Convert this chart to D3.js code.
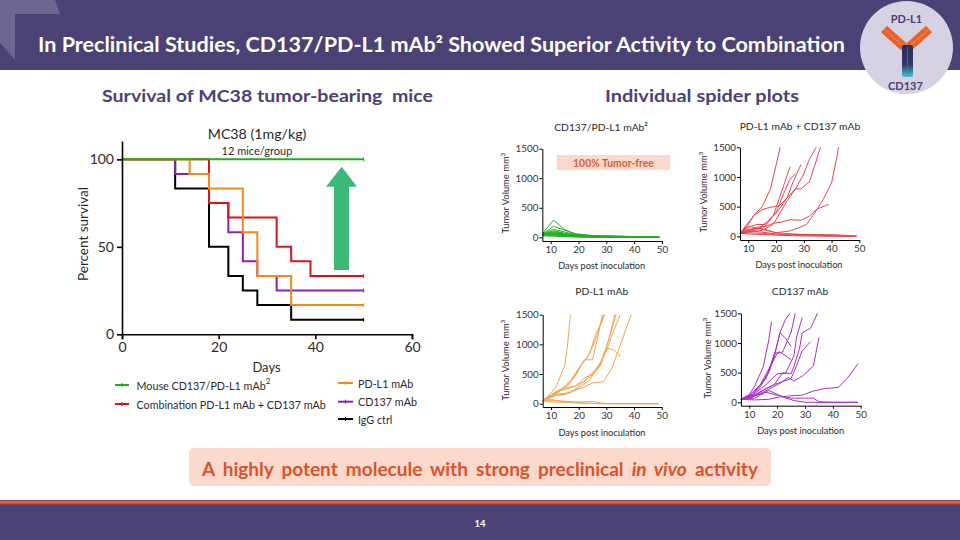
<!DOCTYPE html>
<html><head><meta charset="utf-8">
<script src="https://cdn.jsdelivr.net/npm/d3@7/dist/d3.min.js"></script>
<style>html,body{margin:0;padding:0;background:#fff}svg{display:block}text{font-family:Lato,sans-serif}</style>
</head><body><svg id="c" width="960" height="540"></svg>
<script>
// ---------- survival data (day, percent) ----------
const survivalGreen  = [[0,100],[50,100]];
const survivalRed    = [[0,100],[18,75],[22,66.7],[32,50],[35,41.7],[39,33.3],[50,33.3]];
const survivalOrange = [[0,100],[14,91.7],[18,83.3],[25,58.3],[28,33.3],[35,16.7],[50,16.7]];
const survivalPurple = [[0,100],[11,91.7],[18,75],[22,58.3],[25,41.7],[28,33.3],[32,25],[50,25]];
const survivalBlack  = [[0,100],[11,83.3],[18,50],[22,33.3],[25,25],[28,16.7],[35,8.3],[50,8.3]];
const survivalTicksX = [0,20,40,60];
const survivalTicksY = [0,50,100];
const legendLeft  = ["Mouse CD137/PD-L1 mAb","Combination PD-L1 mAb + CD137 mAb"];
const legendRight = ["PD-L1 mAb","CD137 mAb","IgG ctrl"];

// ---------- spider data (day, volume) ----------
const spiderGreen = [
 [[7,60],[11,290],[15,130],[19,50],[25,25],[35,15],[49,5]],
 [[7,50],[11,185],[15,120],[19,60],[25,30],[35,15],[49,5]],
 [[7,60],[11,135],[15,90],[19,40],[25,20],[35,10],[49,0]],
 [[7,40],[11,110],[15,70],[19,35],[25,20],[35,20],[49,0]],
 [[7,50],[11,95],[15,60],[19,30],[25,25],[35,10],[49,0]],
 [[7,30],[11,80],[15,55],[19,25],[25,15],[35,10],[49,0]],
 [[7,70],[11,70],[15,45],[19,25],[25,15],[35,5],[49,0]],
 [[7,40],[11,60],[15,40],[19,20],[25,10],[35,5],[49,0]],
 [[7,55],[11,50],[15,30],[19,15],[25,10],[35,5],[49,0]],
 [[7,35],[11,40],[15,25],[19,15],[25,5],[35,0],[49,0]],
 [[7,45],[11,30],[15,20],[19,10],[25,5],[35,0],[49,0]],
 [[7,25],[11,20],[15,10],[19,5],[25,0],[35,0],[49,0]]
];
const spiderRed = [
 [[7,50],[10,200],[12,350],[15,500],[18,800],[20,1200],[21.5,1500]],
 [[7,50],[10,150],[13,200],[16,200],[19,350],[22,750],[25,1170]],
 [[7,50],[10,100],[13,130],[16,170],[20,400],[23,750],[25,960],[27,1050]],
 [[7,50],[12,350],[15,450],[18,490],[21,510],[24,650],[26,900],[29,1210]],
 [[7,50],[13,150],[16,160],[19,220],[22,240],[25,280],[29,270],[32,340],[35,470],[36,480],[39,540]],
 [[7,50],[10,120],[15,130],[20,60],[25,90],[28,140],[31,200],[34,400],[37,620],[40,900],[42,1350],[42.5,1500]],
 [[7,50],[13,110],[17,250],[21,450],[24,650],[27,800],[29,800],[32,920],[34,1200],[36,1500]],
 [[7,50],[15,100],[19,200],[24,600],[27,800],[30,1050],[32,1300],[34.5,1500]],
 [[7,50],[10,170],[14,130],[20,60],[26,40],[35,15],[49,0]],
 [[7,50],[10,90],[15,70],[20,40],[26,30],[35,30],[42,25],[49,5]],
 [[7,50],[10,60],[15,50],[20,30],[26,15],[35,10],[49,0]],
 [[7,50],[10,40],[15,30],[20,20],[26,10],[35,5],[49,0]]
];
const spiderOrange = [
 [[7,50],[10,180],[12,300],[15,650],[16,1000],[17,1500]],
 [[7,50],[10,120],[13,230],[16,300],[19,480],[22,740],[25,740],[27,1150],[28.5,1500]],
 [[7,50],[10,130],[13,200],[17,380],[20,600],[23,780],[25,950],[27,1200],[29,1500]],
 [[7,50],[12,200],[15,290],[18,430],[21,650],[24,850],[26,1150],[28,1350],[29.5,1500]],
 [[7,50],[12,210],[15,240],[19,300],[22,430],[25,500],[28,650],[30,940],[33,900],[35,800]],
 [[7,50],[12,150],[15,150],[19,230],[22,280],[25,350],[29,370],[32,600],[35,980],[37,1250],[39,1500]],
 [[7,50],[12,140],[15,160],[18,220],[21,330],[24,450],[27,580],[29,800],[31,1100],[33,1500]],
 [[7,50],[11,170],[15,260],[19,300],[22,380],[25,520],[28,700],[30,950],[32,1250],[33.5,1500]],
 [[7,50],[12,160],[16,180],[20,260],[24,400],[27,620],[30,880],[32,1150],[35,1500]],
 [[7,50],[10,70],[14,40],[18,30],[22,30],[25,40],[28,10],[32,0],[49,0]],
 [[7,50],[10,30],[15,20],[20,10],[25,5],[30,0],[49,0]],
 [[7,50],[12,50],[17,30],[22,10],[27,0],[49,0]]
];
const spiderPurple = [
 [[7,50],[10,130],[12,280],[15,600],[17,1050],[18,1360]],
 [[7,50],[10,120],[13,250],[16,400],[19,800],[21,1170],[23,1400],[24.6,1500]],
 [[7,50],[11,120],[14,300],[17,560],[20,820],[22,850],[25,1180],[26.5,1500]],
 [[7,50],[12,150],[16,300],[20,480],[23,490],[26,780],[27,1100],[29,1430]],
 [[7,50],[11,80],[15,200],[19,300],[22,500],[25,480],[26,600],[28,900],[29,1170],[32,1250],[34.5,1500]],
 [[7,50],[12,130],[16,230],[19,300],[22,350],[25,400],[27,620],[29,870],[32,1020]],
 [[7,50],[13,120],[17,220],[21,320],[24,420],[26,360],[29,440],[33,610],[35,1090]],
 [[7,50],[10,110],[14,290],[17,500],[19,770],[21,1170],[23,1080],[25,940]],
 [[7,50],[11,120],[14,260],[17,520],[19,820],[21,850],[25,720]],
 [[7,50],[12,40],[17,50],[21,90],[25,110],[29,120],[33,190],[37,230],[42,250],[46,450],[49,650]],
 [[7,50],[11,100],[16,170],[20,120],[25,70],[30,70],[33,70],[35,10],[40,0],[49,0]],
 [[7,50],[12,70],[17,200],[22,90],[26,30],[30,0],[49,0]]
];
const spiderTitles = ["CD137/PD-L1 mAb²","PD-L1 mAb + CD137 mAb","PD-L1 mAb","CD137 mAb"];
const spiderTicksX = [10,20,30,40,50];
const spiderTicksY = [0,500,1000,1500];

const svg = d3.select("#c");
const PURPLE="#4a4175", ORANGE_RED="#d9532c", INK="#2a2a2a";
const txt=(x,y,s,size,fill,o={})=>{const t=svg.append("text").attr("x",x).attr("y",y).attr("font-size",size).attr("fill",fill)
  .attr("text-anchor",o.anchor||"middle").attr("dominant-baseline","central").text(s);
  if(o.weight)t.attr("font-weight",o.weight); if(o.len)t.attr("textLength",o.len).attr("lengthAdjust","spacingAndGlyphs"); if(o.ws)t.attr("word-spacing",o.ws); return t;};

// ---------- slide frame ----------
svg.append("rect").attr("width",960).attr("height",70).attr("fill",PURPLE);
svg.append("path").attr("d","M0,0H55L60,14H15V60L0,43Z").attr("fill","#6d6690");
svg.append("rect").attr("y",500).attr("width",960).attr("height",5).attr("fill","#8f4048");
svg.append("rect").attr("y",501).attr("width",960).attr("height",2.6).attr("fill","#cc6a4c");
svg.append("rect").attr("y",505).attr("width",960).attr("height",35).attr("fill",PURPLE);
txt(480,523,"14",9.5,"#fff",{weight:700});
txt(441.5,44,"In Preclinical Studies, CD137/PD-L1 mAb² Showed Superior Activity to Combination",20.5,"#fff",{weight:700,len:807});

// badge
svg.append("circle").attr("cx",906.5).attr("cy",47.5).attr("r",46.5).attr("fill","#d6d2e3");
const grad=svg.append("defs").append("linearGradient").attr("id","stem").attr("x1",0).attr("x2",0).attr("y1",0).attr("y2",1);
[[0,"#2b2c5c"],[.62,"#2f3a68"],[1,"#46c6d8"]].forEach(d=>grad.append("stop").attr("offset",d[0]).attr("stop-color",d[1]));
[[884,29,904,47],[929,29,909,47]].forEach(a=>{
  svg.append("line").attr("x1",a[0]).attr("y1",a[1]).attr("x2",a[2]).attr("y2",a[3]).attr("stroke","#e8632b").attr("stroke-width",9);
  svg.append("line").attr("x1",a[0]).attr("y1",a[1]).attr("x2",a[2]).attr("y2",a[3]).attr("stroke","#f08a55").attr("stroke-width",1);
});
svg.append("rect").attr("x",902).attr("y",45).attr("width",11).attr("height",32).attr("rx",2).attr("fill","url(#stem)");
svg.append("line").attr("x1",907.5).attr("x2",907.5).attr("y1",47).attr("y2",76).attr("stroke","#6a6f96").attr("stroke-width",.7);
txt(906.5,18,"PD-L1",11,PURPLE,{weight:700});
txt(905.5,85.5,"CD137",11,PURPLE,{weight:700});

// headings
txt(267.5,95,"Survival of MC38 tumor-bearing  mice",17.5,PURPLE,{weight:700,len:331}).attr("xml:space","preserve");
txt(702,95,"Individual spider plots",17.5,PURPLE,{weight:700,len:194});

// banner
svg.append("rect").attr("x",189).attr("y",448).attr("width",582).attr("height",38).attr("rx",5).attr("fill","#fbd9cc");
const b=txt(480,467.5,"",19,ORANGE_RED,{weight:700,ws:3.5});
b.append("tspan").text("A highly potent molecule with strong preclinical ");
b.append("tspan").attr("font-style","italic").text("in vivo");
b.append("tspan").text(" activity");

// ---------- survival plot ----------
const sx=d3.scaleLinear().domain([0,60]).range([122,412]);
const sy=d3.scaleLinear().domain([0,110.5]).range([334.3,141]);
const stepLine=d3.line().x(d=>sx(d[0])).y(d=>sy(d[1])).curve(d3.curveStepAfter);
[[survivalBlack,"#000"],[survivalPurple,"#8e1fb5"],[survivalRed,"#d7141c"],[survivalOrange,"#ef8a1d"],[survivalGreen,"#1fae1f"]].forEach(([d,c])=>{
  svg.append("path").attr("d",stepLine(d)).attr("fill","none").attr("stroke",c).attr("stroke-width",2);
  const e=d[d.length-1];
  svg.append("line").attr("x1",sx(e[0])).attr("x2",sx(e[0])).attr("y1",sy(e[1])-2).attr("y2",sy(e[1])+2).attr("stroke",c).attr("stroke-width",1);
});
const axS=(g)=>{g.selectAll("path,line").attr("stroke","#000").attr("stroke-width",1.6);g.selectAll("text").attr("fill",INK).attr("font-size",14).style("font-family","Lato,sans-serif");};
svg.append("g").attr("transform","translate(0,334.3)").call(d3.axisBottom(sx).tickValues(survivalTicksX).tickSize(5).tickSizeOuter(5).tickPadding(3)).call(axS);
svg.append("g").attr("transform","translate(122,0)").call(d3.axisLeft(sy).tickValues(survivalTicksY).tickSize(5).tickSizeOuter(0).tickPadding(3)).call(axS);
txt(257,133,"MC38 (1mg/kg)",14.2,INK);
txt(257,150,"12 mice/group",11,INK);
svg.append("text").attr("transform","rotate(-90 83 234)").attr("x",83).attr("y",234).attr("text-anchor","middle").attr("dominant-baseline","central").attr("font-size",13.5).attr("fill",INK).text("Percent survival");
txt(266.5,367,"Days",13,INK);
svg.append("path").attr("d","M341.7,166.7L357,186.7H349V270H334V186.7H326Z").attr("fill","#3cb878");

// legend
const legItem=(x1,x2,tx,y,c,s)=>{
  svg.append("line").attr("x1",x1).attr("x2",x2).attr("y1",y).attr("y2",y).attr("stroke",c).attr("stroke-width",2);
  svg.append("line").attr("x1",(x1+x2)/2).attr("x2",(x1+x2)/2).attr("y1",y-2).attr("y2",y+2).attr("stroke",c);
  return txt(tx,y,s,10.75,INK,{anchor:"start"});
};
const l0=legItem(115,129,136.5,385,"#1fae1f",legendLeft[0]);
l0.append("tspan").attr("font-size",8).attr("dy",-4).text("2");
legItem(115,129,136.5,404,"#d7141c",legendLeft[1]);
legItem(338,353,358,383,"#ef8a1d",legendRight[0]);
legItem(338,353,358,401.7,"#8e1fb5",legendRight[1]);
legItem(338,353,358,419,"#000",legendRight[2]);

// ---------- spider plots ----------
const panels=[
 {d:spiderGreen, c:"#22ad22",x10:550.7,x50:662,y0:237.3,y15:148.7,base:241,yl:[505,193],xl:[601.7,265.7],t:[601,127]},
 {d:spiderRed,   c:"#e8474f",x10:748.3,x50:859.3,y0:236.3,y15:147.3,base:240,yl:[703,192],xl:[799,264],t:[800,126]},
 {d:spiderOrange,c:"#f0a654",x10:551,x50:661.7,y0:403.7,y15:314.7,base:407,yl:[505,360],xl:[602,432],t:[601.7,291]},
 {d:spiderPurple,c:"#a82fc8",x10:749.3,x50:860.7,y0:402.3,y15:313.3,base:405.7,yl:[707,358],xl:[800.7,430.7],t:[800,291]}
];
panels.forEach((p,i)=>{
  const perDay=(p.x50-p.x10)/40, perUnit=(p.y0-p.y15)/1500;
  const x=d3.scaleLinear().domain([7,50]).range([p.x10-3*perDay,p.x50]);
  const y=d3.scaleLinear().domain([-(p.base-p.y0)/perUnit,1500]).range([p.base,p.y15]);
  const ln=d3.line().x(d=>x(d[0])).y(d=>y(d[1]));
  p.d.forEach(s=>svg.append("path").attr("d",ln(s)).attr("fill","none").attr("stroke",p.c).attr("stroke-width",1));
  const ax=g=>{g.selectAll("path,line").attr("stroke","#000").attr("stroke-width",1);g.selectAll("text").attr("fill","#333").attr("font-size",9.8).style("font-family","Lato,sans-serif");};
  svg.append("g").attr("transform",`translate(0,${p.base})`).call(d3.axisBottom(x).tickValues(spiderTicksX).tickFormat(d3.format("d")).tickSize(3).tickSizeOuter(0).tickPadding(2)).call(ax);
  svg.append("g").attr("transform",`translate(${p.x10-3*perDay},0)`).call(d3.axisLeft(y).tickValues(spiderTicksY).tickFormat(d3.format("d")).tickSize(3).tickSizeOuter(0).tickPadding(1)).call(ax);
  txt(p.t[0],p.t[1],spiderTitles[i],10.3,INK);
  txt(p.xl[0],p.xl[1],"Days post inoculation",9.2,INK);
  const yt=svg.append("text").attr("transform",`rotate(-90 ${p.yl[0]} ${p.yl[1]})`).attr("x",p.yl[0]).attr("y",p.yl[1]).attr("text-anchor","middle").attr("dominant-baseline","central").attr("font-size",9.4).attr("fill",INK).text("Tumor Volume mm");
  yt.append("tspan").attr("font-size",6.5).attr("dy",-3).text("3");
});
svg.append("rect").attr("x",556.7).attr("y",155).attr("width",113.3).attr("height",15).attr("fill","#fad9cc");
txt(613.5,162.5,"100% Tumor-free",10.4,"#dc5f3a",{weight:700});
</script></body></html>
